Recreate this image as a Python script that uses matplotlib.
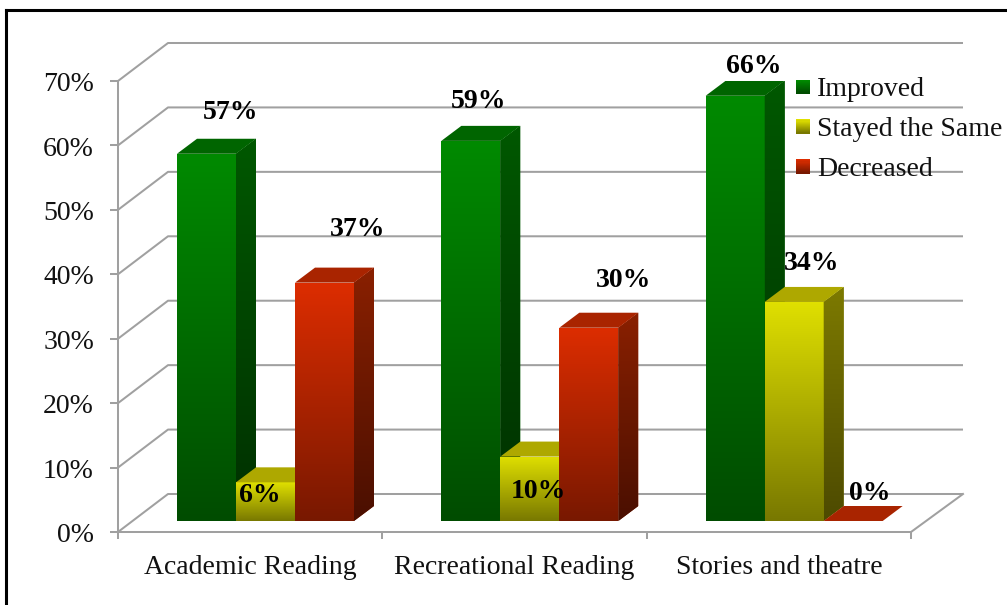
import numpy as np
import matplotlib
matplotlib.use("Agg")
import matplotlib.pyplot as plt
from matplotlib.colors import LinearSegmentedColormap
from matplotlib.lines import Line2D
from matplotlib.patches import Polygon, Rectangle
from matplotlib.legend_handler import HandlerBase
from matplotlib.transforms import ScaledTranslation

categories = ["Academic Reading", "Recreational Reading", "Stories and theatre"]
series = ["Improved", "Stayed the Same", "Decreased"]
improved = [57, 59, 66]
stayed = [6, 10, 34]
decreased = [37, 30, 0]
y_ticks = [0, 10, 20, 30, 40, 50, 60, 70]

W, H = 1007, 605
AX_L, AX_R, AX_T, AX_B = 118, 911, 81, 532
plt.rcParams["font.family"] = ["Liberation Serif", "DejaVu Serif"]

fig = plt.figure(figsize=(W / 100, H / 100), dpi=100, facecolor="white")
ax = fig.add_axes([AX_L / W, 1 - AX_B / H, (AX_R - AX_L) / W, (AX_B - AX_T) / H])
ax.set_xlim(0, 3)
ax.set_ylim(0, 70)
ax.patch.set_visible(False)
px_x = 3 / (AX_R - AX_L)
px_y = 70 / (AX_B - AX_T)

GRID = "#a0a0a0"
LW = 1.45
WALL_DX, WALL_DY = 50 * px_x, 38 * px_y
for t in y_ticks:
    ax.plot([0, WALL_DX, 3 + 52 * px_x], [t, t + WALL_DY, t + WALL_DY],
            color=GRID, lw=LW, clip_on=False, zorder=1, solid_capstyle="butt")
ax.plot([3, 3 + 52 * px_x], [0, WALL_DY], color=GRID, lw=LW, clip_on=False, zorder=1)

for s in ("top", "right"):
    ax.spines[s].set_visible(False)
for s in ("left", "bottom"):
    ax.spines[s].set_color(GRID)
    ax.spines[s].set_linewidth(LW)
ax.set_yticks(y_ticks)
ax.set_yticklabels([f"{t}%" for t in y_ticks], fontsize=20, color="#111111")
ax.set_xticks([0, 1, 2, 3])
ax.set_xticklabels([])
ax.set_xticks([0.5, 1.5, 2.5], minor=True)
ax.set_xticklabels(categories, minor=True, fontsize=20, color="#111111")
ax.tick_params(axis="y", length=5.8, width=LW, color=GRID, pad=11.5)
ax.tick_params(axis="x", which="major", length=5, width=LW, color=GRID)
ax.tick_params(axis="x", which="minor", length=0, pad=16.5)
shift_down = ScaledTranslation(0, -0.5 / 72, fig.dpi_scale_trans)
for lab in ax.get_yticklabels():
    lab.set_transform(lab.get_transform() + shift_down)

# colours: front top, front bottom, top face, side top, side bottom
palette = [
    ("#008a00", "#004c00", "#006500", "#005800", "#003000"),
    ("#e0e000", "#787800", "#aea800", "#7d7a00", "#4d4a00"),
    ("#dd2d00", "#781800", "#a92400", "#8a2000", "#4a0f00"),
]
values = [improved, stayed, decreased]

BASE = 11 * px_y
BAR_W = 59 * px_x
DEPTH_X, DEPTH_Y = 20 * px_x, 15 * px_y
START = 59 * px_x


def gradient(top, bottom):
    return LinearSegmentedColormap.from_list("g", [top, bottom])


GRAD = np.linspace(0, 1, 256).reshape(-1, 1)
for g in range(len(categories)):
    for j in range(len(series)):
        v = values[j][g]
        x0 = g + START + j * BAR_W
        x1 = x0 + BAR_W
        front_c, back_c, top_c, side_t, side_b = palette[j]
        z = 3 + g * 3 + j
        if v > 0:
            bar = ax.bar(x0, v, BAR_W, bottom=BASE, align="edge", color=front_c,
                         linewidth=0, zorder=z, clip_on=False)[0]
            im = ax.imshow(GRAD, cmap=gradient(front_c, back_c), aspect="auto",
                           extent=(x0, x1, BASE, BASE + v), zorder=z)
            im.set_clip_path(bar)
            side = Polygon([(x1, BASE), (x1 + DEPTH_X, BASE + DEPTH_Y),
                            (x1 + DEPTH_X, BASE + v + DEPTH_Y), (x1, BASE + v)],
                           closed=True, fc=side_t, ec="none", zorder=z)
            ax.add_patch(side)
            im2 = ax.imshow(GRAD, cmap=gradient(side_t, side_b), aspect="auto",
                            extent=(x1, x1 + DEPTH_X, BASE, BASE + v + DEPTH_Y), zorder=z)
            im2.set_clip_path(side)
        ax.add_patch(Polygon([(x0, BASE + v), (x1, BASE + v),
                              (x1 + DEPTH_X, BASE + v + DEPTH_Y),
                              (x0 + DEPTH_X, BASE + v + DEPTH_Y)],
                             closed=True, fc=top_c, ec="none", zorder=z))
ax.set_xlim(0, 3)
ax.set_ylim(0, 70)

# data labels, offset in pixels from the top centre of each bar's front face
offs = {
    (0, 0): (24.5, 41), (0, 1): (-6, -13), (0, 2): (33.5, 53),
    (1, 0): (7.5, 39), (1, 1): (8.5, -35), (1, 2): (34.5, 47),
    (2, 0): (19, 29), (2, 1): (17, 38), (2, 2): (17, 27),
}
for g in range(len(categories)):
    for j in range(len(series)):
        v = values[j][g]
        xc = g + START + (j + 0.5) * BAR_W
        ax.annotate(f"{v}%", (xc, BASE + v), xytext=offs[(g, j)],
                    textcoords="offset pixels", ha="center", va="center",
                    fontsize=20, fontweight="bold", color="black",
                    zorder=40, annotation_clip=False)


class GradHandler(HandlerBase):
    def __init__(self, top, bottom):
        super().__init__()
        self.cmap = gradient(top, bottom)

    def create_artists(self, legend, orig, xd, yd, width, height, fontsize, trans):
        n = 13
        out = []
        sw, sh = 10.1, 10.1
        x = -xd
        y = -yd + (height - sh) / 2
        for i in range(n):
            r = Rectangle((x, y + sh * (n - 1 - i) / n), sw, sh / n + 0.15,
                          fc=self.cmap(i / (n - 1)), ec="none", transform=trans)
            out.append(r)
        return out


handles = [Rectangle((0, 0), 1, 1) for _ in series]
hmap = {h: GradHandler(palette[i][0], palette[i][1]) for i, h in enumerate(handles)}
leg = ax.legend(handles, series, handler_map=hmap, frameon=False, fontsize=20,
                loc="upper left", bbox_to_anchor=(796 / W, 1 - 77 / H),
                bbox_transform=fig.transFigure, borderpad=0, borderaxespad=0,
                labelspacing=0.52, handlelength=0.7, handletextpad=0.05)
leg.set_zorder(30)
for t in leg.get_texts():
    t.set_color("#111111")

fig.add_artist(Line2D([5.5 / W, 5.5 / W], [0, 1 - 10 / H], color="black", lw=2.2,
                      transform=fig.transFigure, solid_capstyle="projecting"))
fig.add_artist(Line2D([5.5 / W, 1], [1 - 10 / H, 1 - 10 / H], color="black", lw=2.2,
                      transform=fig.transFigure, solid_capstyle="projecting"))

fig.savefig("out.png", dpi=100, facecolor="white")
